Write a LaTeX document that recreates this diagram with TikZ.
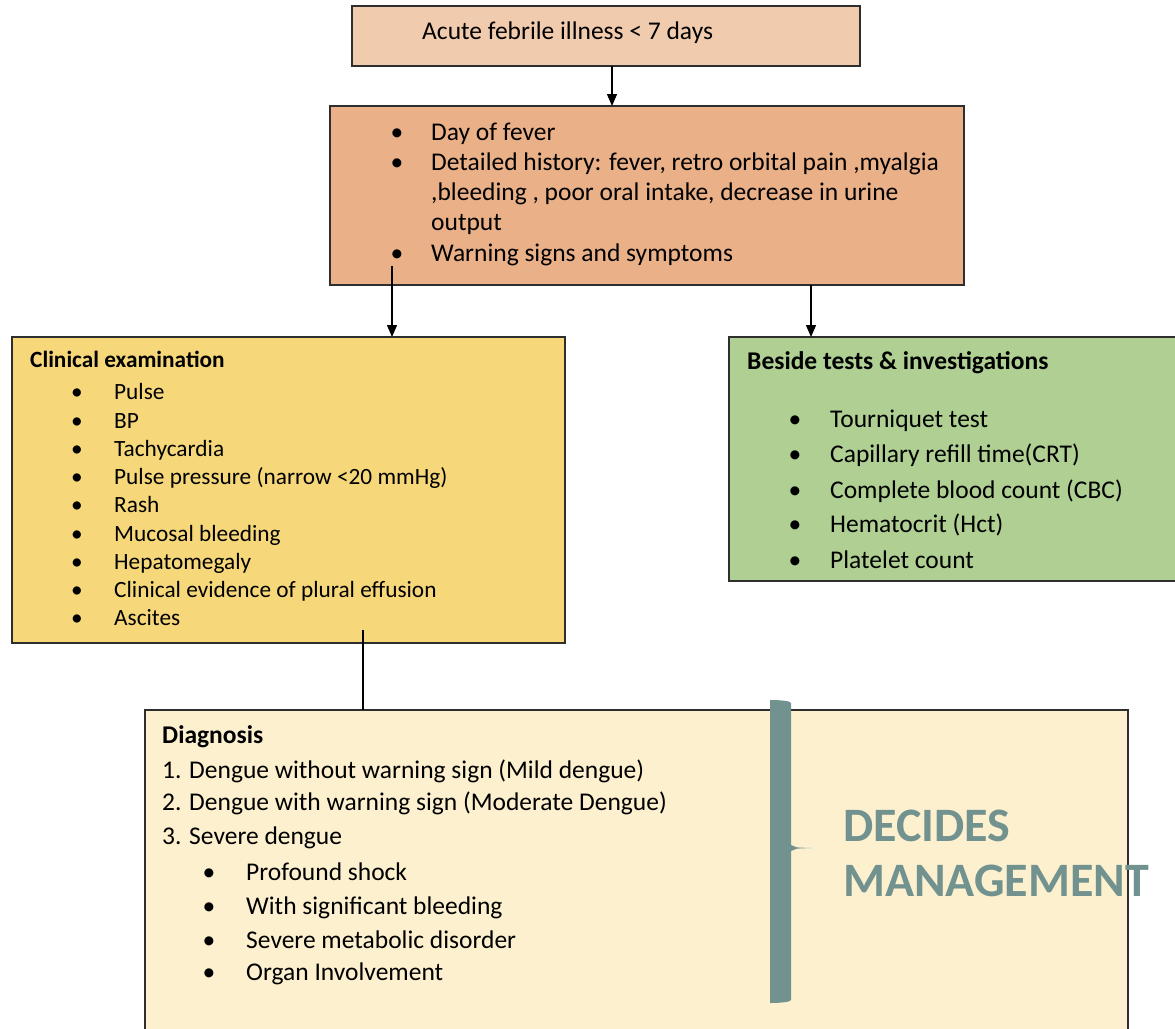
\documentclass[tikz,border=0pt]{standalone}
\usepackage{fontspec}
\setmainfont{Carlito}
\usetikzlibrary{arrows.meta}
\definecolor{onsetfill}{HTML}{F1CBAD}
\definecolor{historyfill}{HTML}{EAB088}
\definecolor{examfill}{HTML}{F6D87B}
\definecolor{testsfill}{HTML}{AFCF93}
\definecolor{diagfill}{HTML}{FCF0CF}
\definecolor{teal}{HTML}{71928F}
\definecolor{edge}{HTML}{2E2E2E}
\tikzset{
  box/.style={draw=edge, line width=1.3pt, anchor=north west, inner sep=0pt, outer sep=0pt},
  txt/.style={anchor=base west, inner sep=0pt, font=\fontsize{25.5}{30}\selectfont},
  hd/.style={txt, font=\fontsize{25.5}{30}\selectfont\bfseries},
  bul/.style={anchor=base, inner sep=0pt, font=\fontsize{25.5}{30}\selectfont},
  small/.style={font=\fontsize{23.3}{28}\selectfont},
  smallhd/.style={font=\fontsize{23.3}{28}\selectfont\bfseries},
  arr/.style={draw=black, line width=1.3pt, -{Triangle[length=12pt,width=10pt]}},
  link/.style={draw=black, line width=1.3pt},
}
\begin{document}
\begin{tikzpicture}[x=1pt, y=-1pt]
\useasboundingbox (0,0) rectangle (1175,1028);
\clip (0,0) rectangle (1175,1028);

% boxes
\node[box, fill=onsetfill, minimum width=508pt, minimum height=60pt] (onset) at (352,6) {};
\node[box, fill=historyfill, minimum width=634pt, minimum height=179pt] (history) at (330,106) {};
\node[box, fill=examfill, minimum width=553pt, minimum height=306pt] (exam) at (12,337) {};
\node[box, fill=testsfill, minimum width=460pt, minimum height=244pt] (tests) at (729,337) {};
\node[box, fill=diagfill, minimum width=983pt, minimum height=340pt] (diag) at (145,710) {};

% onset
\node[txt] (onsetT) at (422,39) {Acute febrile illness < 7 days};

% history
\node[bul] (hb1) at (397,140) {•};
\node[txt] (h1) at (431,140) {Day of fever};
\node[bul] (hb2) at (397,170) {•};
\node[txt] (h2) at (431,170) {Detailed history: fever, retro orbital pain ,myalgia};
\node[txt] (h3) at (431,200) {,bleeding , poor oral intake, decrease in urine};
\node[txt] (h4) at (431,230) {output};
\node[bul] (hb5) at (397,261) {•};
\node[txt] (h5) at (431,261) {Warning signs and symptoms};

% clinical examination
\node[hd, smallhd] (examT) at (30,367) {Clinical examination};
\foreach \y/\t [count=\i] in {399/Pulse, 428/BP, 456/Tachycardia, 484/{Pulse pressure (narrow <20 mmHg)}, 512/Rash, 541/Mucosal bleeding, 569/Hepatomegaly, 597/Clinical evidence of plural effusion, 625/Ascites}{
  \node[bul, small] (eb\i) at (77,\y) {•};
  \node[txt, small] (e\i) at (114,\y) {\t};
}

% bedside tests
\node[hd] (testsT) at (747,369) {Beside tests \& investigations};
\foreach \y/\t [count=\i] in {427/Tourniquet test, 462/Capillary refill time(CRT), 498/Complete blood count (CBC), 532/Hematocrit (Hct), 568/Platelet count}{
  \node[bul] (tb\i) at (795,\y) {•};
  \node[txt] (t\i) at (830,\y) {\t};
}

% diagnosis
\node[hd] (diagT) at (162,743) {Diagnosis};
\node[txt] (d1) at (162,778) {1. Dengue without warning sign (Mild dengue)};
\node[txt] (d2) at (162,810) {2. Dengue with warning sign (Moderate Dengue)};
\node[txt] (d3) at (162,844) {3. Severe dengue};
\foreach \y/\t [count=\i] in {880/Profound shock, 914/With significant bleeding, 948/Severe metabolic disorder, 980/Organ Involvement}{
  \node[bul] (db\i) at (209,\y) {•};
  \node[txt] (ds\i) at (246,\y) {\t};
}

% connectors
\draw[arr] ([xshift=6pt]onset.south) -- ([xshift=6pt]onset.south |- history.north);
\coordinate (histL) at (392,266);
\draw[arr] (histL) -- (histL |- exam.north);
\draw[arr] ([xshift=164pt]history.south) -- ([xshift=164pt]history.south |- tests.north);
\coordinate (examTail) at (363,630);
\draw[link] (examTail) -- (examTail |- diag.north);

% brace
\fill[teal] (770,700) -- (770,1003) .. controls (780,1003) and (791,1002) .. (791,1000)
  -- (791,851) .. controls (795,848.5) .. (812,848) .. controls (795,847.5) .. (791,845)
  -- (791,703) .. controls (791,701) and (780,700) .. (770,700) -- cycle;
\node[anchor=base west, inner sep=0pt, text=teal, font=\fontsize{48}{54}\selectfont\bfseries] (dec1) at (843,841) {DECIDES};
\node[anchor=base west, inner sep=0pt, text=teal, font=\fontsize{48}{54}\selectfont\bfseries] (dec2) at (843,896) {MANAGEMENT};
\end{tikzpicture}
\end{document}
